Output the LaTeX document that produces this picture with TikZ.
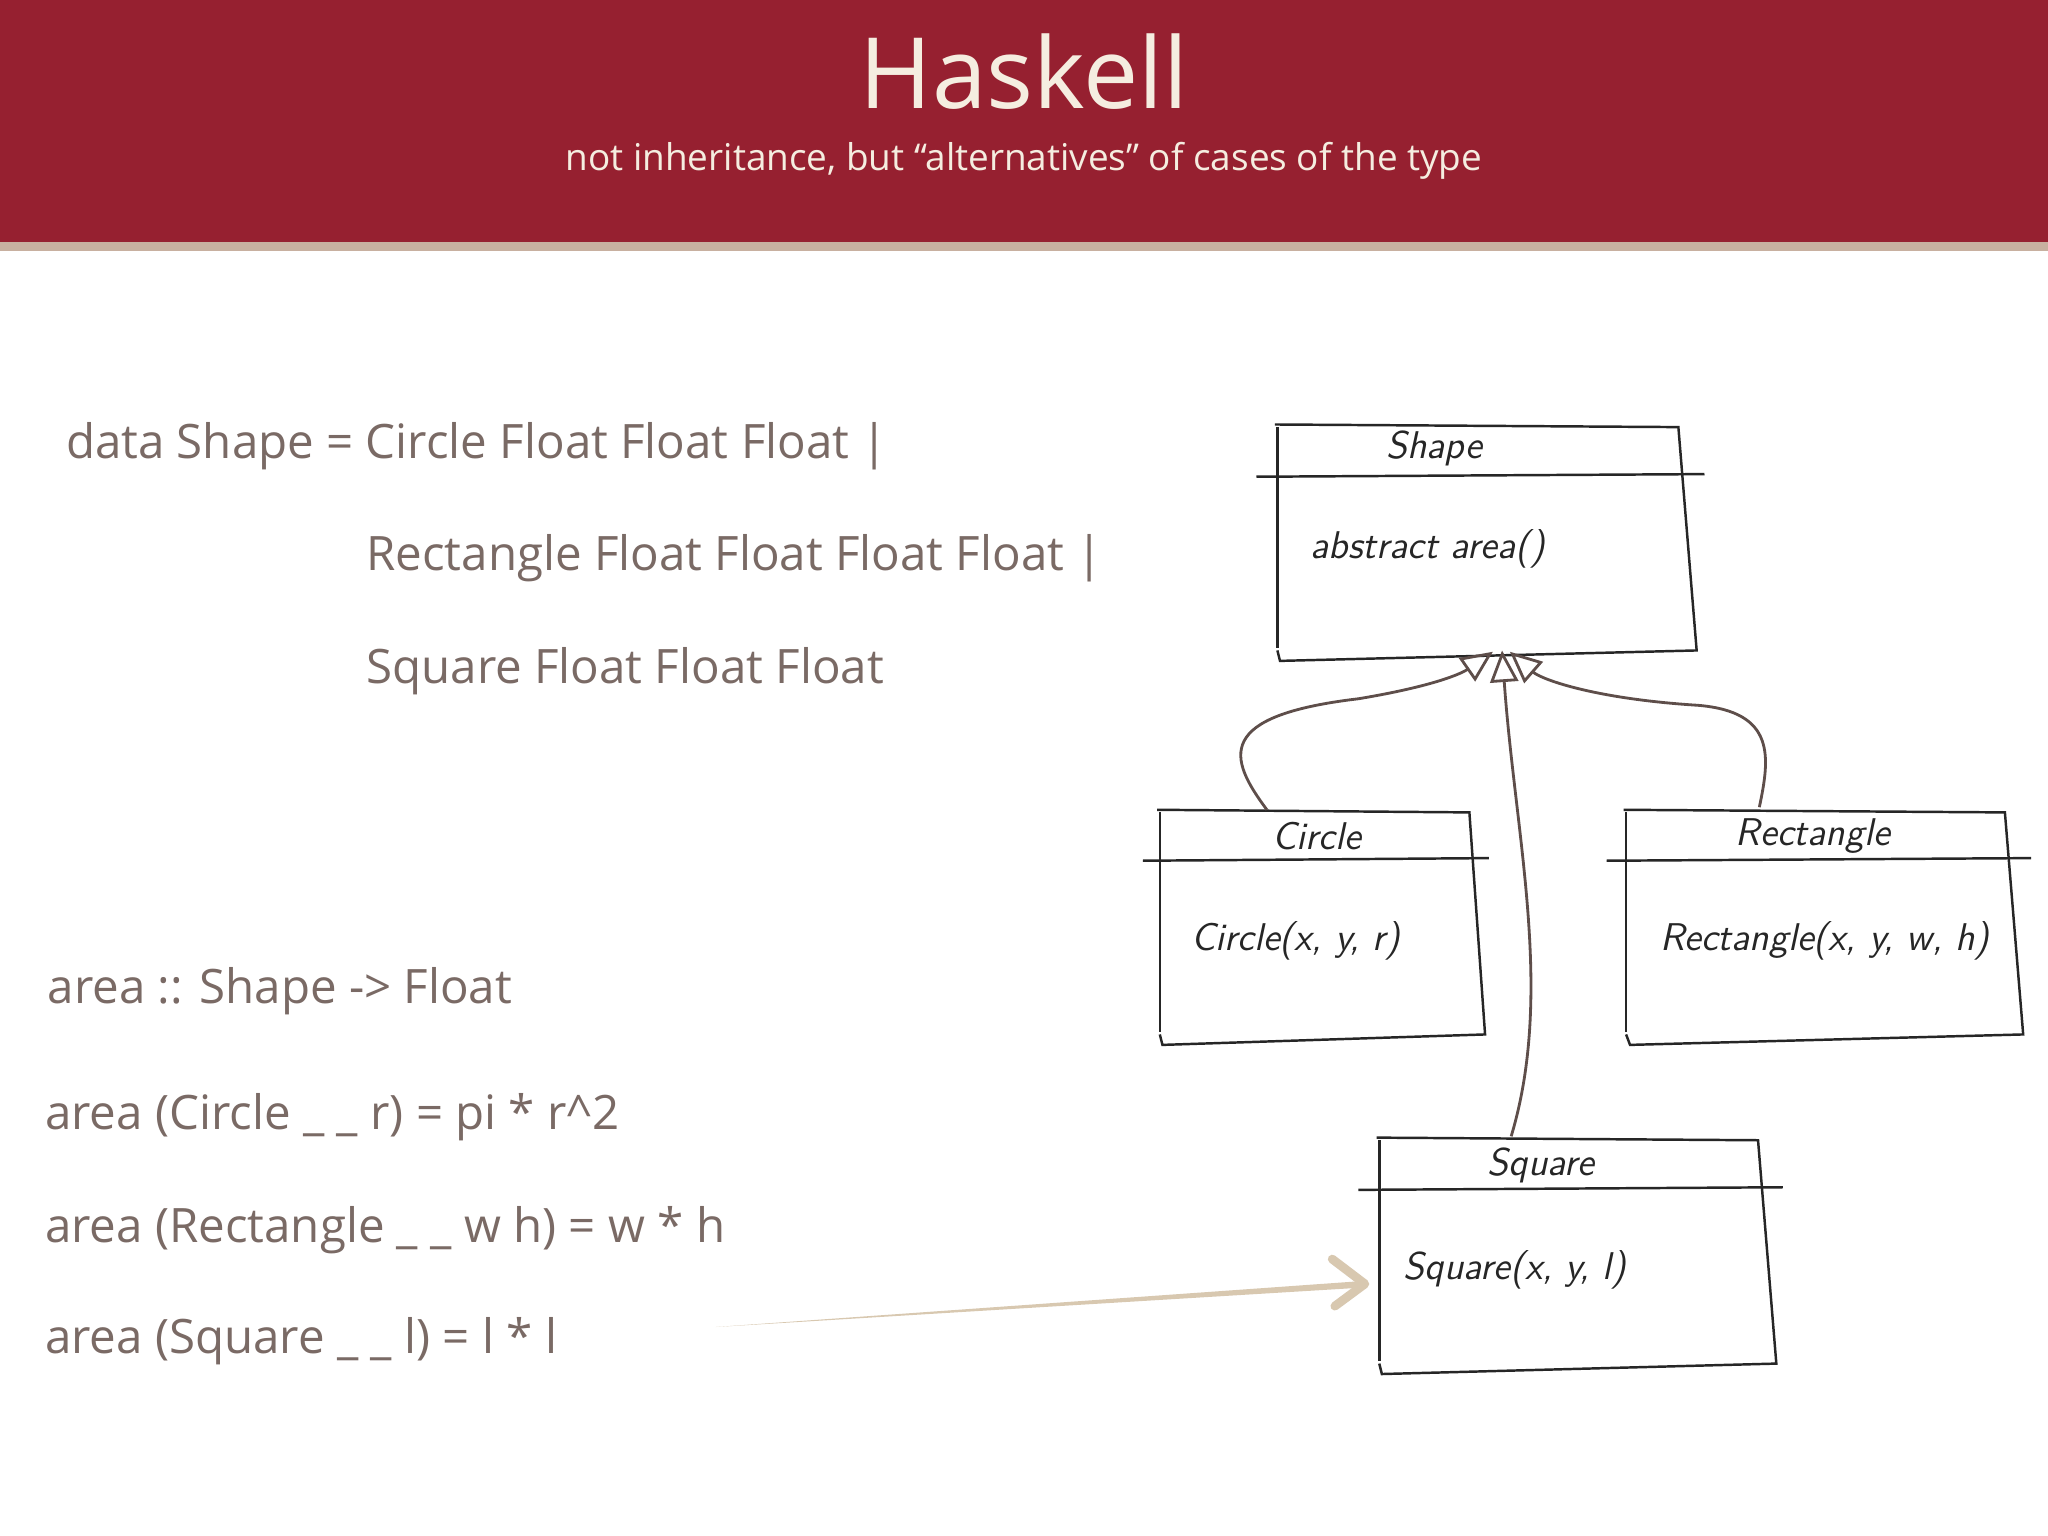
\documentclass[tikz,border=0pt]{standalone}
\usepackage{fontspec}
\setmainfont{Open Sans}
\usetikzlibrary{arrows.meta}
\definecolor{hred}{HTML}{962030}
\definecolor{hline}{HTML}{C8B0A0}
\definecolor{cream}{HTML}{F5EDE0}
\definecolor{txt}{HTML}{7A6A65}
\definecolor{beige}{HTML}{D8C8B0}
\definecolor{arr}{HTML}{5E4E4A}
\tikzset{
  code/.style={anchor=base west,text=txt,font=\fontsize{13.5}{16}\selectfont,inner sep=0pt},
  hand/.style={text=black!85,font=\sffamily\itshape\fontsize{11}{13}\selectfont,inner sep=0pt},
  box/.style={draw=black!85,line width=0.7pt},
  inh/.style={draw=arr,line width=0.8pt,-{Triangle[open,length=9pt,width=8pt]}}
}
\begin{document}
\begin{tikzpicture}[x=0.013061cm,y=-0.013061cm]
\useasboundingbox (0,0) rectangle (1568,1176);
\fill[white] (0,0) rectangle (1568,1176);
\fill[hred] (0,0) rectangle (1568,185);
\fill[hline] (0,185) rectangle (1568,192);
\node[text=cream,font=\fontsize{28}{30}\selectfont] (title) at (784,55) {Haskell};
\node[text=cream,font=\fontsize{10.5}{12}\selectfont] (sub) at (784,123) {not inheritance, but “alternatives” of cases of the type};

\node[code] (l1) at (50,351) {data Shape = Circle Float Float Float |};
\node[code] (l2) at (280,437) {Rectangle Float Float Float Float |};
\node[code] (l3) at (280,523) {Square Float Float Float};
\node[code] (l4) at (36,768) {area :: Shape -> Float};
\node[code] (l5) at (34,865) {area (Circle \_ \_ r) = pi * r\textasciicircum 2};
\node[code] (l6) at (34,951) {area (Rectangle \_ \_ w h) = w * h};
\node[code] (l7) at (34,1036) {area (Square \_ \_ l) = l * l};

% Shape box
\draw[box] (976,325) -- (1285,327) -- (1299,498) -- (980,506) -- (978,498);
\draw[box] (978,327) -- (978,496);
\draw[box] (962,365) -- (1305,363);
\node[hand] (shapet) at (1098,343) {Shape};
\node[hand] (shapeb) at (1093,420) {abstract area()};
% Circle box
\draw[box] (886,620) -- (1125,622) -- (1137,792) -- (890,800) -- (888,792);
\draw[box] (888,622) -- (888,790);
\draw[box] (875,659) -- (1140,657);
\node[hand] (circt) at (1008,640) {Circle};
\node[hand] (circb) at (992,720) {Circle(x, y, r)};
% Rectangle box
\draw[box] (1243,620) -- (1535,622) -- (1549,792) -- (1248,800) -- (1245,792);
\draw[box] (1245,622) -- (1245,790);
\draw[box] (1230,659) -- (1555,657);
\node[hand] (rectt) at (1388,640) {Rectangle};
\node[hand] (rectb) at (1397,720) {Rectangle(x, y, w, h)};
% Square box
\draw[box] (1054,871) -- (1346,873) -- (1360,1044) -- (1058,1052) -- (1056,1044);
\draw[box] (1056,873) -- (1056,1042);
\draw[box] (1040,911) -- (1365,909);
\node[hand] (sqt) at (1180,892) {Square};
\node[hand] (sqb) at (1160,972) {Square(x, y, l)};

\coordinate (hub) at (1150,498);
\coordinate (cT) at (970,620);
\coordinate (rT) at (1347,618);
\coordinate (sT) at (1157,870);
\draw[inh] (cT) .. controls (940,580) and (930,548) .. (1040,535) .. controls (1100,525) and (1120,515) .. (1143,499);
\draw[inh] (rT) .. controls (1355,580) and (1360,545) .. (1300,540) .. controls (1220,535) and (1180,520) .. (1156,499);
\draw[inh] (sT) .. controls (1190,760) and (1160,640) .. (hub);

% beige arrow
\coordinate (a0) at (548,1016);
\coordinate (a1) at (1045,983);
\fill[beige] (a0) -- (1040,981) -- (1040,986) -- cycle;
\draw[beige,line width=2.5pt,line cap=round,line join=round] (1020,964) -- (a1) -- (1022,1000);
\end{tikzpicture}
\end{document}
